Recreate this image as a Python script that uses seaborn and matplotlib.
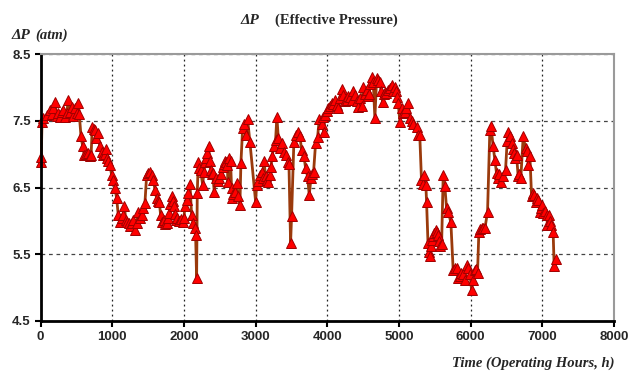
import numpy as np
import pandas as pd
import matplotlib
matplotlib.use("Agg")
import matplotlib.pyplot as plt
import seaborn as sns

# operating hours and effective pressure (atm)
hours = [
    0, 10, 20, 38, 85, 131, 155, 180, 201, 224, 250, 271, 295, 317, 340, 365,
    387, 410, 433, 457, 480, 503, 526, 540, 564, 587, 610, 635, 657, 689, 705,
    721, 740, 759, 780, 796, 828, 852, 870, 895, 912, 921, 945, 968, 991, 1014,
    1038, 1061, 1084, 1107, 1130, 1150, 1168, 1190, 1210, 1230, 1250, 1270,
    1290, 1317, 1340, 1363, 1385, 1410, 1435, 1456, 1480, 1505, 1526, 1549,
    1572, 1596, 1619, 1640, 1656, 1675, 1698, 1720, 1740, 1758, 1775, 1796,
    1812, 1828, 1845, 1861, 1875, 1889, 1910, 1930, 1960, 1982, 2000, 2014,
    2038, 2060, 2084, 2107, 2130, 2150, 2163, 2177, 2186, 2200, 2215, 2233,
    2261, 2279, 2295, 2307, 2325, 2345, 2360, 2372, 2385, 2400, 2423, 2446,
    2470, 2493, 2515, 2540, 2560, 2575, 2590, 2605, 2615, 2630, 2650, 2665,
    2675, 2690, 2711, 2735, 2757, 2781, 2795, 2819, 2840, 2861, 2888, 2920,
    3000, 3014, 3035, 3060, 3084, 3100, 3116, 3140, 3160, 3177, 3200, 3214,
    3232, 3255, 3279, 3297, 3316, 3339, 3371, 3399, 3423, 3446, 3465, 3488,
    3502, 3534, 3558, 3586, 3618, 3641, 3674, 3698, 3725, 3748, 3772, 3790,
    3809, 3837, 3865, 3888, 3920, 3944, 3953, 3967, 3990, 4013, 4040, 4060,
    4085, 4106, 4130, 4152, 4175, 4199, 4222, 4245, 4269, 4290, 4315, 4340,
    4362, 4385, 4410, 4431, 4455, 4478, 4501, 4525, 4548, 4565, 4584, 4600,
    4618, 4641, 4664, 4688, 4710, 4734, 4750, 4771, 4790, 4803, 4825, 4850,
    4875, 4897, 4920, 4943, 4960, 4975, 4989, 5013, 5036, 5060, 5082, 5105,
    5129, 5152, 5175, 5200, 5245, 5268, 5290, 5314, 5335, 5350, 5375, 5385,
    5405, 5417, 5431, 5450, 5465, 5477, 5495, 5510, 5530, 5547, 5560, 5570,
    5595, 5617, 5640, 5664, 5687, 5724, 5756, 5780, 5803, 5826, 5845, 5865,
    5890, 5919, 5943, 5966, 5990, 6013, 6027, 6059, 6080, 6096, 6115, 6135,
    6152, 6175, 6199, 6236, 6268, 6282, 6314, 6338, 6361, 6384, 6400, 6421,
    6454, 6487, 6510, 6524, 6547, 6571, 6590, 6605, 6620, 6640, 6663, 6680,
    6700, 6733, 6766, 6790, 6803, 6827, 6850, 6870, 6886, 6906, 6925, 6943,
    6965, 6985, 6998, 7012, 7035, 7059, 7072, 7091, 7110, 7128, 7151, 7165,
    7188,
]
pressure = [
    6.89, 6.96, 7.49, 7.54, 7.59, 7.66, 7.60, 7.70, 7.79, 7.58, 7.62, 7.56,
    7.64, 7.66, 7.56, 7.62, 7.82, 7.64, 7.71, 7.58, 7.69, 7.62, 7.77, 7.60,
    7.27, 7.12, 6.99, 7.00, 7.02, 6.97, 6.99, 7.41, 7.38, 7.37, 7.24, 7.32,
    7.12, 7.04, 6.99, 7.00, 7.08, 6.94, 6.90, 6.84, 6.69, 6.62, 6.49, 6.34,
    6.09, 5.99, 6.05, 6.09, 6.22, 6.02, 5.98, 5.97, 5.93, 5.97, 6.02, 5.87,
    5.97, 6.14, 6.05, 6.09, 6.20, 6.27, 6.69, 6.72, 6.74, 6.69, 6.62, 6.47,
    6.34, 6.30, 6.29, 6.09, 5.99, 6.01, 5.95, 5.97, 6.05, 6.12, 6.25, 6.37,
    6.30, 6.22, 6.10, 6.02, 6.05, 6.00, 6.03, 5.99, 6.05, 6.22, 6.32, 6.42,
    6.56, 6.09, 5.97, 5.90, 5.79, 5.14, 6.42, 6.89, 6.80, 6.77, 6.54, 6.74,
    6.88, 6.94, 7.02, 7.13, 6.90, 6.77, 6.70, 6.72, 6.44, 6.64, 6.60, 6.64,
    6.70, 6.81, 6.85, 6.90, 6.88, 6.84, 6.59, 6.94, 6.90, 6.49, 6.34, 6.40,
    6.44, 6.57, 6.37, 6.24, 6.87, 7.39, 7.45, 7.29, 7.53, 7.19, 6.29, 6.54,
    6.60, 6.69, 6.74, 6.65, 6.90, 6.67, 6.62, 6.59, 6.69, 6.81, 6.98, 7.12,
    7.22, 7.56, 7.25, 7.09, 7.17, 7.04, 6.99, 6.89, 6.85, 5.67, 6.08, 7.19,
    7.29, 7.34, 7.27, 7.07, 6.97, 6.79, 6.67, 6.39, 6.64, 6.70, 6.74, 7.17,
    7.26, 7.53, 7.46, 7.56, 7.34, 7.59, 7.65, 7.69, 7.72, 7.77, 7.75, 7.81,
    7.74, 7.69, 7.85, 7.98, 7.89, 7.80, 7.81, 7.88, 7.86, 7.82, 7.95, 7.89,
    7.80, 7.71, 7.85, 7.72, 8.01, 7.90, 7.96, 7.88, 7.91, 8.05, 8.16, 8.09,
    7.54, 8.14, 8.12, 8.09, 7.95, 7.79, 7.90, 7.94, 7.92, 7.96, 8.00, 8.04,
    7.95, 8.01, 7.95, 7.86, 7.77, 7.49, 7.69, 7.62, 7.64, 7.70, 7.77, 7.54,
    7.50, 7.45, 7.41, 7.29, 7.29, 6.62, 6.55, 6.69, 6.54, 6.29, 5.67, 5.54,
    5.47, 5.62, 5.72, 5.77, 5.82, 5.87, 5.84, 5.79, 5.70, 5.62, 5.65, 6.69,
    6.52, 6.19, 6.14, 5.98, 5.27, 5.30, 5.29, 5.14, 5.18, 5.22, 5.20, 5.11,
    5.34, 5.29, 5.20, 4.97, 5.12, 5.27, 5.28, 5.22, 5.84, 5.88, 5.89, 5.90,
    5.89, 6.14, 7.37, 7.43, 7.12, 6.92, 6.72, 6.64, 6.70, 6.59, 6.67, 6.77,
    7.20, 7.34, 7.27, 7.17, 7.08, 7.02, 6.95, 6.99, 6.67, 6.70, 6.64, 7.27,
    7.09, 7.05, 6.84, 6.97, 6.37, 6.42, 6.39, 6.29, 6.35, 6.32, 6.14, 6.20,
    6.24, 6.12, 6.15, 6.09, 5.94, 6.09, 6.00, 5.94, 5.83, 5.32, 5.43,
]

x_ticks = [0, 1000, 2000, 3000, 4000, 5000, 6000, 7000, 8000]
y_ticks = [4.5, 5.5, 6.5, 7.5, 8.5]

df = pd.DataFrame({"hours": hours, "pressure": pressure})

sns.set_style("white")

fig = plt.figure(figsize=(6.3, 3.71), dpi=100)
ax = fig.add_axes([0.0644, 0.1348, 0.9102, 0.7188])

sns.lineplot(data=df, x="hours", y="pressure", ax=ax, estimator=None, sort=False,
             color="#9a3a0c", linewidth=2, marker="^", markersize=7,
             markerfacecolor="#ff0000", markeredgecolor="#a00000",
             markeredgewidth=0.7, clip_on=False)

ax.set_xlim(0, 8000)
ax.set_ylim(4.5, 8.5)
ax.set_xticks(x_ticks)
ax.set_yticks(y_ticks)
ax.set_xticklabels([str(t) for t in x_ticks], fontsize=9.5, fontweight='bold',
                   family='Liberation Sans')
ax.set_yticklabels([str(t) for t in y_ticks], fontsize=9.5, fontweight='bold',
                   family='Liberation Sans')
ax.set_xlabel("")
ax.set_ylabel("")

# grid: vertical dotted, horizontal dashed
ax.xaxis.grid(True, color='#222222', linestyle=(0, (1.5, 2.5)), linewidth=0.9)
ax.yaxis.grid(True, color='#444444', linestyle=(0, (3, 3)), linewidth=0.9)
ax.set_axisbelow(True)

for side in ['left', 'bottom']:
    ax.spines[side].set_color('black')
    ax.spines[side].set_linewidth(2)
for side in ['top', 'right']:
    ax.spines[side].set_color('#9a9a9a')
    ax.spines[side].set_linewidth(1.5)

ax.tick_params(axis='both', direction='out', length=4, width=1.5, color='black',
               left=True, bottom=True, pad=3)

# title and axis labels
serif = 'Liberation Serif'
fig.text(0.381, 0.945, "ΔP", family=serif, fontsize=11, fontweight='bold',
         style='italic', ha='left', va='center')
fig.text(0.436, 0.945, "(Effective Pressure)", family=serif, fontsize=10.5,
         fontweight='bold', ha='left', va='center')
fig.text(0.018, 0.905, "ΔP", family=serif, fontsize=11, fontweight='bold',
         style='italic', ha='left', va='center')
fig.text(0.056, 0.905, "(atm)", family=serif, fontsize=10.5, fontweight='bold',
         style='italic', ha='left', va='center')
fig.text(0.975, 0.022, "Time (Operating Hours, h)", family=serif, fontsize=10.5,
         fontweight='bold', style='italic', ha='right', va='center')

fig.savefig("out.png", dpi=100)
plt.close(fig)
